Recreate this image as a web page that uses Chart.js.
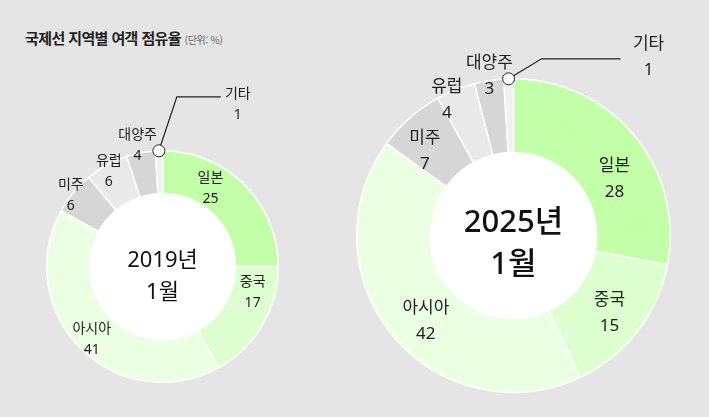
<!DOCTYPE html>
<html lang="ko">
<head>
<meta charset="utf-8">
<script src="https://cdn.jsdelivr.net/npm/chart.js@4"></script>
<style>
  body { margin: 0; background: #e5e5e5; }
  .wrap { position: relative; width: 709px; height: 417px; overflow: hidden; font-family: "Noto Sans CJK KR", sans-serif; }
  .wrap canvas { position: absolute; left: 0; top: 0; }
  .title { position: absolute; left: 25px; top: 28px; line-height: 20px; font-size: 15px; font-weight: 700; color: #222; letter-spacing: -0.6px; }
  .title small { font-size: 10px; font-weight: 400; color: #666; letter-spacing: -0.3px; }
</style>
</head>
<body>
<div class="wrap">
  <div class="title">국제선 지역별 여객 점유율 <small>(단위: %)</small></div>
  <canvas id="chart2019" width="709" height="417"></canvas>
  <canvas id="chart2025" width="709" height="417"></canvas>
</div>
<script>
const regions = ['일본', '중국', '아시아', '미주', '유럽', '대양주', '기타'];
const share2019 = [25, 17, 41, 6, 6, 4, 1];
const share2025 = [28, 15, 42, 7, 4, 3, 1];
const period2019 = ['2019년', '1월'];
const period2025 = ['2025년', '1월'];

const regionColors = ['#c3ffa8', '#ddffd0', '#ebffe3', '#d6d6d6', '#e9e9e9', '#d6d6d6', '#f0f0f0'];
const fontStack = '"Noto Sans", "Noto Sans CJK KR", sans-serif';

// draws white hole, labels, leader line for the small slice and the center text
function ringPlugin(cfg) {
    return {
        id: 'ring' + cfg.id,
        beforeDatasetsDraw(chart) {
            const p = chart.getDatasetMeta(0).data[0].getProps(['x', 'y', 'innerRadius'], true);
            const ctx = chart.ctx;
            ctx.save();
            ctx.fillStyle = '#fff';
            ctx.beginPath();
            ctx.arc(p.x, p.y, p.innerRadius, 0, Math.PI * 2);
            ctx.fill();
            ctx.restore();
        },
        afterDatasetsDraw(chart) {
            const ctx = chart.ctx;
            const meta = chart.getDatasetMeta(0);
            const values = chart.data.datasets[0].data;
            const labels = chart.data.labels;
            let cx = 0, cy = 0;
            ctx.save();
            ctx.textAlign = 'center';
            ctx.textBaseline = 'middle';
            meta.data.forEach((arc, i) => {
                const p = arc.getProps(['x', 'y', 'startAngle', 'endAngle', 'innerRadius', 'outerRadius'], true);
                cx = p.x; cy = p.y;
                const place = cfg.place[i];
                let ax, ay;
                if (place) {
                    const a = (place[0] - 90) * Math.PI / 180;
                    ax = p.x + place[1] * p.outerRadius * Math.cos(a);
                    ay = p.y + place[1] * p.outerRadius * Math.sin(a);
                } else {
                    const mid = (p.startAngle + p.endAngle) / 2;
                    const mx = p.x + p.outerRadius * Math.cos(mid);
                    const my = p.y + p.outerRadius * Math.sin(mid);
                    const ex = mx + cfg.leader.dx, ey = my + cfg.leader.dy;
                    const hx = ex + cfg.leader.len;
                    ctx.strokeStyle = '#222';
                    ctx.lineWidth = 1.2;
                    ctx.beginPath();
                    ctx.moveTo(mx, my);
                    ctx.lineTo(ex, ey);
                    ctx.lineTo(hx, ey);
                    ctx.stroke();
                    ctx.fillStyle = '#fff';
                    ctx.lineWidth = 1;
                    ctx.beginPath();
                    ctx.arc(mx, my, 6, 0, Math.PI * 2);
                    ctx.fill();
                    ctx.stroke();
                    ax = hx + cfg.leader.gap;
                    ay = ey + cfg.leader.textDy;
                }
                ctx.fillStyle = '#222';
                ctx.font = cfg.labelFont;
                ctx.fillText(labels[i], ax, ay - cfg.lineH / 2);
                ctx.fillText(String(values[i]), ax, ay + cfg.lineH / 2);
            });
            ctx.fillStyle = '#111';
            ctx.font = cfg.centerFont;
            ctx.fillText(cfg.center[0], cx, cy + cfg.centerDy[0]);
            ctx.fillText(cfg.center[1], cx, cy + cfg.centerDy[1]);
            ctx.restore();
        }
    };
}

function makeRing(canvasId, values, cfg) {
    return new Chart(document.getElementById(canvasId), {
        type: 'doughnut',
        data: {
            labels: regions,
            datasets: [{
                data: values,
                backgroundColor: regionColors,
                borderColor: '#ffffff',
                borderWidth: 1.5
            }]
        },
        options: {
            responsive: false,
            animation: false,
            cutout: cfg.cutout,
            layout: { padding: cfg.padding },
            plugins: { legend: { display: false }, tooltip: { enabled: false } }
        },
        plugins: [ringPlugin(cfg)]
    });
}

makeRing('chart2019', share2019, {
    id: '2019',
    cutout: '63%',
    padding: { left: 45, right: 429, top: 150, bottom: 34 },
    place: [[31.6, 0.79], [106, 0.81], [224, 0.88], [307.6, 1.0], [330.4, 0.94], [348.4, 1.07], null],
    leader: { dx: 18, dy: -54, len: 44, gap: 17, textDy: 8 },
    labelFont: '14px ' + fontStack,
    lineH: 21,
    centerFont: '22px ' + fontStack,
    center: period2019,
    centerDy: [-6, 26]
});

makeRing('chart2025', share2025, {
    id: '2025',
    cutout: '53%',
    padding: { left: 356, right: 38, top: 78, bottom: 24 },
    place: [[61, 0.736], [128.9, 0.786], [225.8, 0.78], [313.5, 0.78], [333.7, 0.96], [351.4, 1.03], null],
    leader: { dx: 33, dy: -20, len: 79, gap: 28, textDy: -1.5 },
    labelFont: '17px ' + fontStack,
    lineH: 26,
    centerFont: '500 31px ' + fontStack,
    center: period2025,
    centerDy: [-12, 30]
});
</script>
</body>
</html>
